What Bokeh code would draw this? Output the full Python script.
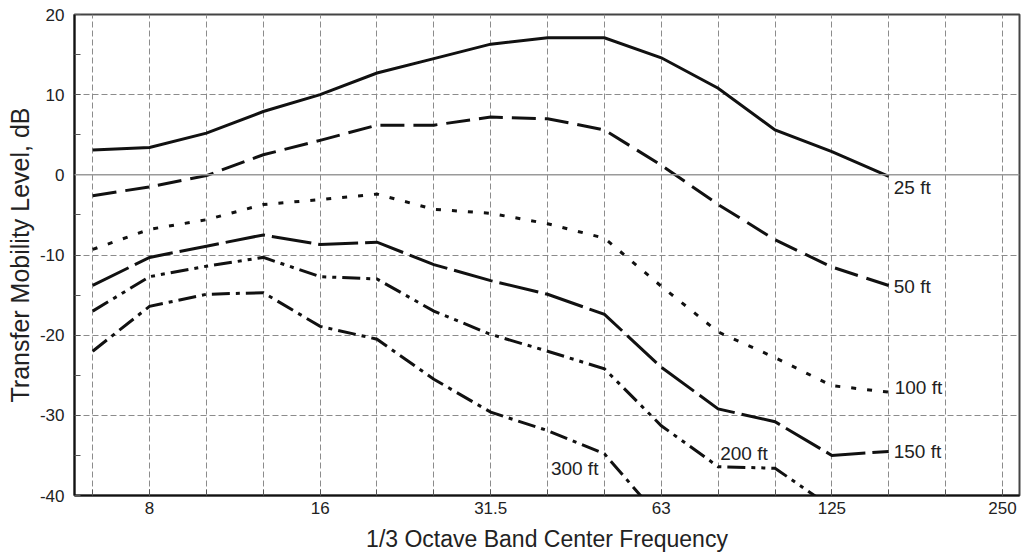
from bokeh.plotting import figure
from bokeh.models import FixedTicker, Span, Label, Range1d
from bokeh.embed import file_html
from bokeh.resources import INLINE

# 1/3 octave band centre frequencies (Hz) -> evenly spaced band index positions
bands = ["6.3", "8", "10", "12.5", "16", "20", "25", "31.5", "40", "50",
         "63", "80", "100", "125", "160", "200", "250"]
x_tick_labels = ["8", "16", "31.5", "63", "125", "250"]
y_ticks = [-40, -30, -20, -10, 0, 10, 20]
y_tick_labels = ["-40", "-30", "-20", "-10", "0", "10", "20"]

# Transfer mobility level (dB) per band
ft25 = [3.1, 3.4, 5.2, 7.9, 10.0, 12.7, 14.5, 16.3, 17.1, 17.1, 14.6, 10.8, 5.6, 2.9, -0.2]
ft50 = [-2.6, -1.5, -0.1, 2.5, 4.3, 6.2, 6.2, 7.2, 7.0, 5.6, 1.2, -3.7, -8.1, -11.5, -13.8]
ft100 = [-9.3, -6.8, -5.6, -3.7, -3.1, -2.4, -4.3, -4.8, -6.1, -7.9, -13.9, -19.6, -22.8, -26.3, -27.1]
ft150 = [-13.8, -10.3, -8.9, -7.5, -8.7, -8.4, -11.2, -13.2, -14.9, -17.4, -24.0, -29.2, -30.8, -35.0, -34.5]
ft200 = [-17.0, -12.7, -11.4, -10.3, -12.7, -13.0, -17.0, -19.9, -22.0, -24.2, -31.3, -36.4, -36.6, -41.5]
ft300 = [-22.0, -16.4, -14.9, -14.7, -18.9, -20.5, -25.5, -29.6, -31.9, -34.8, -43.0]
series_names = ["25 ft", "50 ft", "100 ft", "150 ft", "200 ft", "300 ft"]

FONT = "Liberation Sans"
INK = "#111111"

p = figure(width=1024, height=554, output_backend="svg", toolbar_location=None,
           x_range=Range1d(-0.32, 16.3), y_range=Range1d(-40, 20),
           min_border_left=74, min_border_right=5, min_border_top=14, min_border_bottom=57)
p.background_fill_color = "white"
p.border_fill_color = "white"
p.outline_line_color = "#444444"
p.outline_line_width = 2

band_idx = list(range(len(bands)))
label_idx = [bands.index(t) for t in x_tick_labels]

# grids
p.xgrid.ticker = FixedTicker(ticks=band_idx)
p.ygrid.ticker = FixedTicker(ticks=[t for t in y_ticks if t != 0])
for g in (p.xgrid, p.ygrid):
    g.grid_line_color = "#8c8c8c"
    g.grid_line_dash = "6 3"
    g.grid_line_width = 1
p.add_layout(Span(location=0, dimension="width", line_color="#9a9a9a", line_width=1.5))

# x axis
xa = p.xaxis[0]
xa.ticker = FixedTicker(ticks=label_idx, minor_ticks=band_idx)
xa.major_label_overrides = {i: t for i, t in zip(label_idx, x_tick_labels)}
xa.axis_label = "1/3 Octave Band Center Frequency"
# y axis
ya = p.yaxis[0]
ya.ticker = FixedTicker(ticks=y_ticks, minor_ticks=[t + 5 for t in y_ticks[:-1]])
ya.major_label_overrides = {t: s for t, s in zip(y_ticks, y_tick_labels)}
ya.axis_label = "Transfer Mobility Level, dB"

for ax in (xa, ya):
    ax.axis_line_color = INK
    ax.axis_line_width = 2
    ax.major_tick_in = 6
    ax.major_tick_out = 0
    ax.minor_tick_in = 6
    ax.minor_tick_out = 0
    ax.major_tick_line_color = "#555555"
    ax.minor_tick_line_color = "#555555"
    ax.major_label_text_font = FONT
    ax.major_label_text_font_size = "17px"
    ax.major_label_text_color = "#222222"
    ax.axis_label_text_font = FONT
    ax.axis_label_text_font_style = "normal"
    ax.axis_label_text_color = "#222222"
xa.major_label_standoff = 6
xa.axis_label_standoff = 9
xa.axis_label_text_font_size = "23px"
ya.major_label_standoff = 10
ya.axis_label_standoff = 3
ya.axis_label_text_font_size = "25px"

series = [ft25, ft50, ft100, ft150, ft200, ft300]
dashes = ["solid", "24 9", "5 11", "40 7", "18 6 4 6 4 6", "18 6 4 6"]
for vals, dash in zip(series, dashes):
    p.line(list(range(len(vals))), vals, line_color=INK, line_width=3,
           line_dash=dash, line_join="miter")

# curve labels anchored to the curves
label_specs = [
    (ft25, len(ft25) - 1, 5, -11, "left"),
    (ft50, len(ft50) - 1, 5, -1, "left"),
    (ft100, len(ft100) - 1, 6, 5, "left"),
    (ft150, len(ft150) - 1, 5, 0, "left"),
    (ft200, 11, 2, 13, "left"),
    (ft300, 9, -6, -15, "right"),
]
for name, (vals, i, dx, dy, align) in zip(series_names, label_specs):
    p.add_layout(Label(x=i, y=vals[i], x_offset=dx, y_offset=dy, text=name,
                       text_font=FONT, text_font_size="19px", text_color="#222222",
                       text_align=align, text_baseline="middle",
                       background_fill_color=None))

open("out.html", "w").write(file_html(p, INLINE))
